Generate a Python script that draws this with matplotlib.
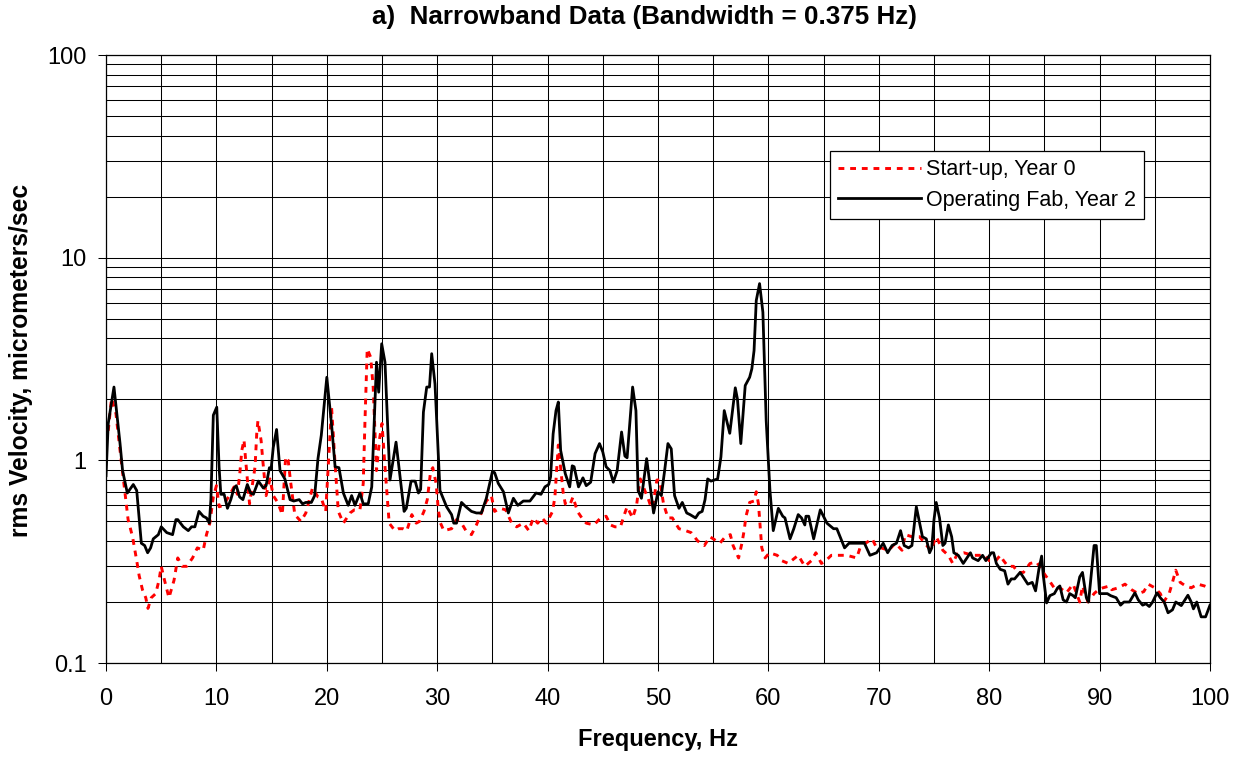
import matplotlib
matplotlib.use("Agg")
import matplotlib.pyplot as plt
from matplotlib.ticker import MultipleLocator, LogLocator, FixedLocator, FixedFormatter, NullFormatter

plt.rcParams['font.family'] = ['Liberation Sans', 'DejaVu Sans']

# Start-up, Year 0 (red dotted)
f_start = [0.2, 0.5, 0.9, 1.27, 1.72, 2.0, 2.4, 2.78, 3.0, 3.3, 3.6, 3.8, 4.1, 4.5, 4.8, 5.0, 5.3, 5.7,
           6.16, 6.5, 6.9, 7.3, 7.84, 8.27, 8.8, 9.1, 9.4, 9.72, 10.0, 10.25, 10.6, 11.1, 11.6, 11.9,
           12.1, 12.3, 12.5, 12.65, 13.0, 13.5, 13.65, 13.76, 14.05, 14.2, 14.5, 14.85, 15.15, 15.55,
           15.97, 16.27, 16.5, 16.7, 17.1, 17.65, 18.1, 18.7, 19.2, 19.5, 19.9, 20.23, 20.43, 20.75,
           21.04, 21.5, 22.1, 22.5, 23.0, 23.3, 23.45, 23.66, 23.97, 24.2, 24.5, 24.8, 25.0, 25.25,
           25.47, 25.65, 26.17, 26.5, 26.9, 27.25, 27.7, 28.1, 28.4, 28.8, 29.1, 29.4, 29.6, 29.9,
           30.1, 30.3, 30.6, 31.3, 31.75, 32.2, 32.6, 33.1, 33.55, 34.0, 34.45, 34.9, 35.2, 35.7,
           36.2, 36.75, 37.2, 37.8, 38.3, 38.7, 39.1, 39.5, 39.9, 40.45, 40.66, 40.8, 40.97, 41.2,
           41.4, 41.6, 42.0, 42.3, 42.7, 43.1, 43.5, 44.2, 44.8, 45.3, 45.7, 46.1, 46.6, 46.9, 47.2,
           47.7, 48.06, 48.2, 48.4, 48.8, 49.1, 49.4, 49.6, 49.9, 50.15, 50.5, 50.9, 51.3, 51.9,
           52.5, 53.0, 53.6, 54.2, 54.7, 55.0, 55.6, 56.1, 56.55, 56.8, 57.3, 57.6, 57.8, 57.97,
           58.3, 58.7, 58.9, 59.1, 59.24, 59.4, 59.7, 60.1, 60.8, 61.2, 61.8, 62.1, 62.7, 63.3,
           63.9, 64.3, 64.8, 65.2, 65.7, 66.4, 67.1, 68.0, 68.3, 68.8, 69.4, 69.8, 70.2, 70.9,
           71.5, 72.1, 72.4, 73.0, 73.7, 74.0, 74.7, 75.2, 75.8, 76.3, 76.7, 77.1, 77.7, 78.5,
           79.1, 79.6, 80.0, 80.6, 81.0, 81.3, 81.7, 82.2, 82.6, 83.1, 83.7, 84.3, 85.0, 85.55,
           86.0, 86.4, 87.0, 87.6, 88.2, 88.45, 88.95, 89.5, 89.9, 90.3, 90.9, 91.1, 91.7, 92.3,
           92.9, 93.5, 94.0, 94.4, 95.0, 95.5, 95.8, 96.3, 96.6, 96.9, 97.3, 97.8, 98.3, 98.9,
           99.5, 99.9]
v_start = [1.4, 2.02, 1.7, 1.12, 0.69, 0.51, 0.42, 0.32, 0.27, 0.23, 0.21, 0.186, 0.21, 0.22, 0.256,
           0.30, 0.256, 0.21, 0.256, 0.33, 0.30, 0.30, 0.33, 0.37, 0.36, 0.43, 0.49, 0.66, 0.75, 0.59,
           0.60, 0.66, 0.74, 0.68, 0.84, 1.12, 1.26, 1.0, 0.61, 0.93, 1.35, 1.57, 1.25, 1.0, 0.67,
           0.81, 0.67, 0.62, 0.54, 1.04, 1.0, 0.80, 0.54, 0.50, 0.55, 0.73, 0.66, 0.65, 0.56, 1.16,
           1.83, 0.96, 0.56, 0.49, 0.55, 0.57, 0.57, 0.77, 1.52, 3.55, 3.23, 2.30, 0.89, 1.30, 1.52,
           0.96, 0.66, 0.49, 0.45, 0.46, 0.46, 0.45, 0.54, 0.49, 0.50, 0.56, 0.64, 0.88, 0.92, 0.77,
           0.57, 0.49, 0.45, 0.46, 0.51, 0.49, 0.45, 0.43, 0.48, 0.55, 0.63, 0.67, 0.56, 0.58, 0.57,
           0.49, 0.47, 0.49, 0.45, 0.52, 0.49, 0.52, 0.49, 0.56, 0.66, 0.86, 1.19, 0.89, 0.70, 0.61,
           0.60, 0.66, 0.56, 0.52, 0.49, 0.48, 0.52, 0.53, 0.48, 0.47, 0.47, 0.53, 0.59, 0.52, 0.60,
           0.69, 0.81, 0.71, 0.65, 0.58, 0.63, 0.80, 0.80, 0.61, 0.52, 0.52, 0.46, 0.45, 0.44, 0.40,
           0.38, 0.42, 0.41, 0.39, 0.42, 0.43, 0.38, 0.33, 0.39, 0.45, 0.53, 0.62, 0.63, 0.70, 0.61,
           0.48, 0.37, 0.33, 0.35, 0.34, 0.32, 0.31, 0.32, 0.34, 0.30, 0.32, 0.35, 0.31, 0.32, 0.34,
           0.34, 0.34, 0.33, 0.37, 0.39, 0.41, 0.37, 0.37, 0.36, 0.39, 0.36, 0.43, 0.42, 0.42, 0.40,
           0.36, 0.42, 0.36, 0.34, 0.31, 0.345, 0.35, 0.34, 0.34, 0.34, 0.32, 0.32, 0.34, 0.32, 0.30,
           0.30, 0.28, 0.28, 0.31, 0.315, 0.275, 0.25, 0.23, 0.235, 0.222, 0.245, 0.20, 0.24, 0.20,
           0.22, 0.23, 0.235, 0.24, 0.23, 0.235, 0.245, 0.23, 0.22, 0.225, 0.245, 0.235, 0.22, 0.20,
           0.22, 0.25, 0.287, 0.25, 0.24, 0.235, 0.245, 0.24, 0.235]

# Operating Fab, Year 2 (black solid)
f_oper = [0.0, 0.2, 0.72, 1.27, 1.5, 1.93, 2.47, 2.78, 3.2, 3.5, 3.77, 4.04, 4.28, 4.74, 5.0, 5.5,
          6.03, 6.33, 6.5, 7.0, 7.45, 7.75, 8.05, 8.42, 8.8, 9.1, 9.36, 9.5, 9.72, 10.03, 10.24, 10.4,
          10.7, 11.0, 11.3, 11.6, 11.8, 12.1, 12.4, 12.8, 13.1, 13.35, 13.8, 14.25, 14.5, 14.8, 14.95,
          15.15, 15.45, 15.76, 16.2, 16.67, 17.0, 17.5, 17.8, 18.1, 18.6, 18.9, 19.2, 19.5, 20.0,
          20.45, 20.75, 21.1, 21.5, 21.94, 22.25, 22.55, 23.0, 23.3, 23.75, 24.07, 24.5, 24.7, 24.97,
          25.27, 25.72, 26.27, 26.57, 27.0, 27.2, 27.63, 28.0, 28.3, 28.5, 28.75, 29.05, 29.3, 29.5,
          29.8, 30.25, 30.85, 31.3, 31.5, 31.75, 32.2, 32.6, 33.1, 33.55, 34.0, 34.45, 35.0, 35.2,
          35.53, 36.0, 36.44, 36.9, 37.3, 37.8, 38.4, 38.95, 39.4, 39.76, 40.1, 40.27, 40.5, 40.76,
          40.97, 41.18, 41.6, 42.0, 42.23, 42.4, 42.8, 43.2, 43.5, 43.9, 44.3, 44.7, 45.0, 45.3,
          45.65, 45.95, 46.3, 46.7, 47.0, 47.2, 47.7, 48.0, 48.2, 48.5, 48.97, 49.35, 49.6, 50.0,
          50.3, 50.6, 50.9, 51.2, 51.5, 51.9, 52.2, 52.6, 52.9, 53.4, 53.7, 54.0, 54.26, 54.5, 54.8,
          55.4, 55.7, 56.0, 56.5, 57.0, 57.2, 57.5, 57.9, 58.3, 58.5, 58.7, 58.9, 59.2, 59.5, 59.8,
          60.14, 60.44, 60.9, 61.3, 61.5, 61.96, 62.3, 62.7, 63.0, 63.3, 63.4, 63.65, 64.1, 64.7,
          65.3, 65.9, 66.2, 66.9, 67.3, 67.8, 68.4, 68.7, 69.2, 69.8, 70.4, 70.8, 71.2, 71.6, 71.97,
          72.3, 72.7, 73.0, 73.4, 73.7, 73.95, 74.3, 74.6, 74.8, 75.0, 75.2, 75.5, 75.8, 76.0, 76.3,
          76.6, 76.8, 77.2, 77.65, 78.3, 78.5, 79.0, 79.4, 79.7, 80.2, 80.4, 80.65, 81.0, 81.4,
          81.7, 82.0, 82.3, 82.8, 83.0, 83.5, 83.9, 84.2, 84.5, 84.75, 84.9, 85.2, 85.5, 85.9, 86.2,
          86.4, 86.7, 87.0, 87.3, 87.6, 87.8, 88.2, 88.45, 88.8, 89.0, 89.5, 89.7, 90.0, 90.3, 90.7,
          91.0, 91.5, 91.9, 92.2, 92.7, 93.2, 93.5, 93.9, 94.2, 94.5, 94.8, 95.2, 95.5, 95.85, 96.2,
          96.6, 96.9, 97.4, 98.0, 98.3, 98.5, 98.8, 99.2, 99.6, 100.0]
v_oper = [0.84, 1.52, 2.3, 1.21, 0.89, 0.69, 0.76, 0.71, 0.39, 0.38, 0.35, 0.37, 0.41, 0.43, 0.47,
          0.44, 0.43, 0.51, 0.51, 0.47, 0.45, 0.47, 0.47, 0.56, 0.53, 0.52, 0.49, 0.64, 1.67, 1.83,
          0.93, 0.68, 0.68, 0.58, 0.64, 0.73, 0.75, 0.66, 0.64, 0.76, 0.69, 0.68, 0.79, 0.73, 0.75,
          0.92, 0.90, 1.16, 1.42, 0.89, 0.81, 0.64, 0.63, 0.64, 0.61, 0.62, 0.62, 0.67, 1.02, 1.33,
          2.57, 1.46, 0.93, 0.92, 0.69, 0.60, 0.67, 0.60, 0.69, 0.61, 0.61, 0.74, 3.05, 2.17, 3.76,
          3.05, 0.80, 1.23, 0.89, 0.56, 0.58, 0.79, 0.79, 0.69, 0.72, 1.73, 2.30, 2.30, 3.36, 2.38,
          0.71, 0.59, 0.54, 0.49, 0.49, 0.62, 0.59, 0.56, 0.55, 0.55, 0.65, 0.88, 0.87, 0.77, 0.70,
          0.55, 0.65, 0.60, 0.63, 0.63, 0.69, 0.68, 0.74, 0.76, 0.83, 1.35, 1.76, 1.94, 1.12, 0.86,
          0.74, 0.94, 0.93, 0.74, 0.82, 0.75, 0.78, 1.08, 1.21, 1.10, 0.93, 0.89, 0.78, 0.89, 1.38,
          1.05, 1.03, 2.30, 1.76, 0.71, 0.65, 1.02, 0.70, 0.55, 0.70, 0.67, 0.89, 1.21, 1.14, 0.67,
          0.58, 0.62, 0.55, 0.54, 0.52, 0.55, 0.56, 0.64, 0.81, 0.79, 0.81, 1.04, 1.76, 1.36, 2.28,
          2.0, 1.21, 2.34, 2.57, 2.83, 3.48, 6.15, 7.45, 5.38, 1.57, 0.71, 0.45, 0.58, 0.53, 0.52,
          0.41, 0.46, 0.54, 0.52, 0.48, 0.53, 0.53, 0.41, 0.57, 0.49, 0.46, 0.46, 0.37, 0.39, 0.39,
          0.39, 0.39, 0.34, 0.35, 0.39, 0.35, 0.38, 0.39, 0.45, 0.38, 0.37, 0.38, 0.59, 0.49, 0.42,
          0.41, 0.35, 0.37, 0.51, 0.62, 0.52, 0.38, 0.39, 0.48, 0.42, 0.35, 0.34, 0.31, 0.35, 0.33,
          0.32, 0.34, 0.32, 0.35, 0.35, 0.31, 0.29, 0.285, 0.245, 0.26, 0.26, 0.28, 0.27, 0.245,
          0.25, 0.227, 0.29, 0.337, 0.27, 0.198, 0.215, 0.22, 0.235, 0.24, 0.205, 0.20, 0.22, 0.215,
          0.21, 0.266, 0.28, 0.21, 0.20, 0.38, 0.38, 0.22, 0.22, 0.22, 0.215, 0.21, 0.193, 0.20,
          0.20, 0.222, 0.205, 0.193, 0.196, 0.19, 0.20, 0.222, 0.21, 0.20, 0.177, 0.183, 0.20, 0.192,
          0.216, 0.20, 0.185, 0.20, 0.169, 0.169, 0.193]

y_ticks = [0.1, 1, 10, 100]
y_labels = ["0.1", "1", "10", "100"]

fig = plt.figure(figsize=(12.4, 7.58), dpi=100)
ax = fig.add_axes([0.0855, 0.1253, 0.8903, 0.8021])

ax.plot(f_start, v_start, color='red', lw=2.1, linestyle=(0, (2.0, 2.0)), label="Start-up, Year 0", zorder=3)
ax.plot(f_oper, v_oper, color='black', lw=2.0, label="Operating Fab, Year 2", zorder=4)

ax.set_yscale('log')
ax.set_xlim(0, 100)
ax.set_ylim(0.1, 100)

ax.xaxis.set_major_locator(MultipleLocator(10))
ax.xaxis.set_minor_locator(MultipleLocator(5))
ax.yaxis.set_major_locator(FixedLocator(y_ticks))
ax.yaxis.set_major_formatter(FixedFormatter(y_labels))
ax.yaxis.set_minor_locator(LogLocator(base=10, subs=[2, 3, 4, 5, 6, 7, 8, 9]))
ax.yaxis.set_minor_formatter(NullFormatter())

ax.grid(which='major', color='black', lw=0.75)
ax.grid(which='minor', color='black', lw=0.75)
ax.tick_params(which='major', direction='out', length=5.8, width=0.75, labelsize=17, colors='black')
ax.tick_params(axis='y', which='major', pad=8)
ax.tick_params(axis='x', which='major', pad=12)
ax.tick_params(which='minor', length=0)
for s in ax.spines.values():
    s.set_color('black')
    s.set_linewidth(0.9)

ax.set_xlabel("Frequency, Hz", fontsize=17, fontweight='bold')
ax.xaxis.set_label_coords(0.5, -0.107)
ax.set_ylabel("rms Velocity, micrometers/sec", fontsize=17.7, fontweight='bold')
ax.yaxis.set_label_coords(-0.066, 0.498)
fig.text(0.520, 0.977, "a)  Narrowband Data (Bandwidth = 0.375 Hz)", fontsize=18.7, fontweight='bold',
         ha='center', va='center')

leg = ax.legend(loc='upper right', bbox_to_anchor=(0.940, 0.842), fontsize=15.5, handlelength=3.86,
                handletextpad=0.2, borderpad=0.37, borderaxespad=0, labelspacing=0.45, fancybox=False,
                framealpha=1, edgecolor='black')
leg.get_frame().set_linewidth(0.9)

fig.savefig("out.png", dpi=100)
